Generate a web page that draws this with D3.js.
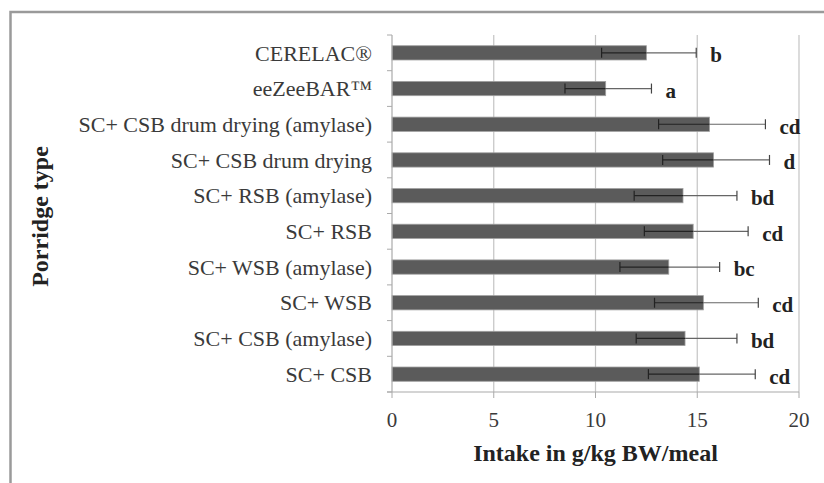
<!DOCTYPE html>
<html><head><meta charset="utf-8">
<script src="https://cdn.jsdelivr.net/npm/d3@7"></script>
<style>body{margin:0;background:#fff}</style>
</head><body>
<svg id="c" width="824" height="483"></svg>
<script>
const categories = ["CERELAC®","eeZeeBAR™","SC+ CSB drum drying (amylase)","SC+ CSB drum drying","SC+ RSB (amylase)","SC+ RSB","SC+ WSB (amylase)","SC+ WSB","SC+ CSB (amylase)","SC+ CSB"];
const values = [12.5,10.5,15.6,15.8,14.3,14.8,13.6,15.3,14.4,15.1];
const errMinus = [2.2,2.0,2.5,2.5,2.4,2.4,2.4,2.4,2.4,2.5];
const errPlus = [2.45,2.25,2.75,2.75,2.65,2.7,2.5,2.7,2.55,2.75];
const letters = ["b","a","cd","d","bd","cd","bc","cd","bd","cd"];
const xTicks = [0,5,10,15,20];

const svg = d3.select("#c");
const serif = "'Liberation Serif','Times New Roman',serif";
// outer frame (no right edge visible)
svg.append("path").attr("d","M10.5,483 V12 H824").attr("fill","none").attr("stroke","#9a9a9a").attr("stroke-width",2.5);

const m = {l:392, r:799, t:35, b:392};
const x = d3.scaleLinear().domain([0,20]).range([m.l,m.r]);
const y = d3.scaleBand().domain(categories).range([m.t,m.b]).paddingInner(0.6).paddingOuter(0.3);
const yb = d3.scaleBand().domain(categories).range([m.t,m.b]);

// gridlines
svg.append("g").selectAll("line").data(xTicks.slice(1)).join("line")
  .attr("x1",d=>x(d)).attr("x2",d=>x(d)).attr("y1",m.t).attr("y2",m.b)
  .attr("stroke","#c4c4c4").attr("stroke-width",1.2);

// bars
const data = categories.map((c,i)=>({c,v:values[i],lo:values[i]-errMinus[i],hi:values[i]+errPlus[i],l:letters[i]}));
svg.append("g").selectAll("rect").data(data).join("rect")
  .attr("x",x(0)).attr("y",d=>y(d.c)).attr("width",d=>x(d.v)-x(0)).attr("height",y.bandwidth())
  .attr("fill","#5b5b5b").attr("stroke","#a0a0a0").attr("stroke-width",0.8);

// error bars
const eb = svg.append("g").selectAll("g").data(data).join("g");
const cy = d=>y(d.c)+y.bandwidth()/2;
eb.append("line").attr("x1",d=>x(d.lo)).attr("x2",d=>x(d.v)).attr("y1",cy).attr("y2",cy).attr("stroke","#222").attr("stroke-width",1.2);
eb.append("line").attr("x1",d=>x(d.v)).attr("x2",d=>x(d.hi)).attr("y1",cy).attr("y2",cy).attr("stroke","#666").attr("stroke-width",1.2);
eb.append("line").attr("x1",d=>x(d.lo)).attr("x2",d=>x(d.lo)).attr("y1",d=>cy(d)-5).attr("y2",d=>cy(d)+5).attr("stroke","#222").attr("stroke-width",1.2);
eb.append("line").attr("x1",d=>x(d.hi)).attr("x2",d=>x(d.hi)).attr("y1",d=>cy(d)-5).attr("y2",d=>cy(d)+5).attr("stroke","#444").attr("stroke-width",1.2);
eb.append("text").attr("x",d=>x(d.hi)+14).attr("y",d=>cy(d)+2).attr("dy","0.35em")
  .attr("font-family",serif).attr("font-weight","bold").attr("font-size",21).attr("fill","#222").text(d=>d.l);

// y axis
const ya = svg.append("g");
ya.append("line").attr("x1",m.l).attr("x2",m.l).attr("y1",m.t).attr("y2",m.b).attr("stroke","#aaa").attr("stroke-width",1.2);
ya.selectAll(".tk").data(d3.range(categories.length+1)).join("line")
  .attr("x1",m.l-5).attr("x2",m.l).attr("y1",i=>m.t+i*yb.step()).attr("y2",i=>m.t+i*yb.step()).attr("stroke","#aaa");
ya.selectAll("text").data(categories).join("text")
  .attr("x",372).attr("y",d=>yb(d)+yb.bandwidth()/2).attr("dy","0.35em").attr("text-anchor","end")
  .attr("font-family",serif).attr("font-size",22).attr("fill","#3a3a3a").text(d=>d);

// x axis
const xa = svg.append("g");
xa.append("line").attr("x1",m.l-5).attr("x2",m.r).attr("y1",m.b).attr("y2",m.b).attr("stroke","#aaa").attr("stroke-width",1.2);
xa.selectAll("line.t").data(xTicks).join("line").attr("class","t")
  .attr("x1",d=>x(d)).attr("x2",d=>x(d)).attr("y1",m.b).attr("y2",m.b+6).attr("stroke","#aaa");
xa.selectAll("text").data(xTicks).join("text")
  .attr("x",d=>x(d)).attr("y",420).attr("dy","0.35em").attr("text-anchor","middle")
  .attr("font-family",serif).attr("font-size",21).attr("fill","#3a3a3a").text(d=>d);

svg.append("text").attr("x",x(10)).attr("y",453).attr("dy","0.35em").attr("text-anchor","middle")
  .attr("font-family",serif).attr("font-weight","bold").attr("font-size",24).attr("fill","#222").text("Intake in g/kg BW/meal");
svg.append("text").attr("transform",`translate(40,${(m.t+m.b)/2+3}) rotate(-90)`).attr("dy","0.35em").attr("text-anchor","middle")
  .attr("font-family",serif).attr("font-weight","bold").attr("font-size",24).attr("fill","#222").text("Porridge type");
</script>
</body></html>
